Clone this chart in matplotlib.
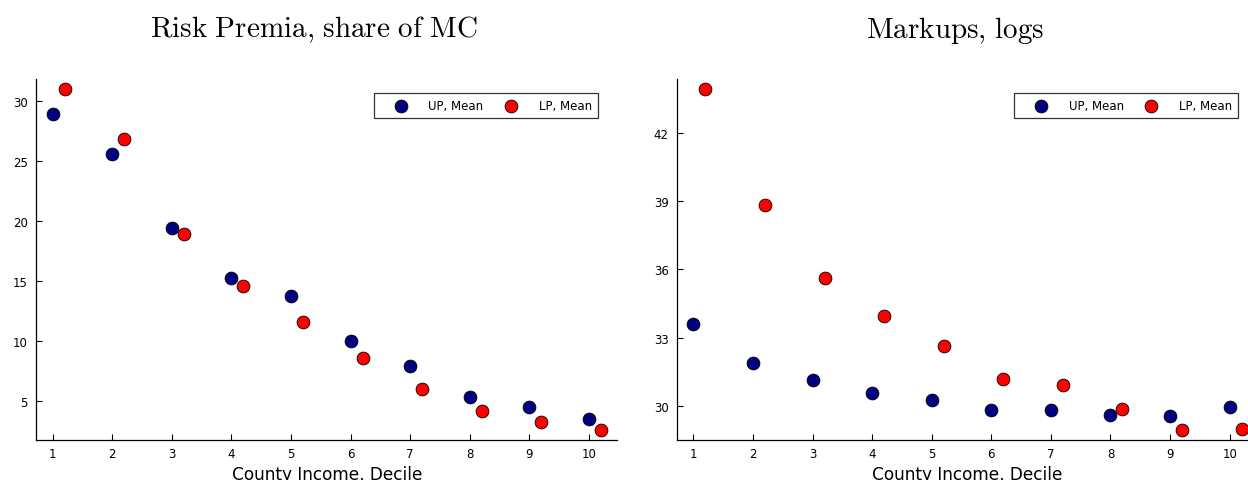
import numpy as np
import matplotlib
matplotlib.use('Agg')
import matplotlib.pyplot as plt

plt.rcParams['font.family'] = ['DejaVu Sans']
plt.rcParams['mathtext.fontset'] = 'cm'

# data
deciles = np.arange(1, 11)
shift = 0.2
risk_up = [28.95, 25.63, 19.42, 15.3, 13.8, 10.0, 7.97, 5.33, 4.5, 3.52]
risk_lp = [31.0, 26.83, 18.97, 14.6, 11.63, 8.63, 6.03, 4.17, 3.3, 2.63]
markup_up = [33.59, 31.88, 31.13, 30.56, 30.26, 29.81, 29.8, 29.62, 29.56, 29.97]
markup_lp = [43.92, 38.84, 35.6, 33.96, 32.65, 31.19, 30.94, 29.85, 28.95, 29.0]

titles = ['Risk Premia, share of MC', 'Markups, logs']
title_x = [314, 955]
yticks = [[5, 10, 15, 20, 25, 30], [30, 33, 36, 39, 42]]
series = [(risk_up, risk_lp), (markup_up, markup_lp)]

W, H = 1248, 481
fig = plt.figure(figsize=(W / 100, H / 100), dpi=100)

lefts = [36.3, 677]
for k in range(2):
    ax = fig.add_axes([lefts[k] / W, 1 - 441 / H, 581 / W, 361 / H])
    up, lp = series[k]
    ax.scatter(deciles, up, s=85, color='#000080', edgecolor='black',
               linewidth=0.6, label='UP, Mean', zorder=3)
    ax.scatter(deciles + shift, lp, s=85, color='#ff0000', edgecolor='black',
               linewidth=0.6, label='LP, Mean', zorder=3)

    allv = np.concatenate([up, lp])
    lo, hi = allv.min(), allv.max()
    pad = 0.03 * (hi - lo)
    ax.set_ylim(lo - pad, hi + pad)
    xlo, xhi = 1, 10 + shift
    xpad = 0.03 * (xhi - xlo)
    ax.set_xlim(xlo - xpad, xhi + xpad)

    ax.set_xticks(deciles)
    ax.set_yticks(yticks[k])
    ax.tick_params(direction='in', length=4, width=0.8, labelsize=8.5)
    ax.tick_params(axis='x', pad=5)
    ax.tick_params(axis='y', pad=6)
    for side in ['top', 'right']:
        ax.spines[side].set_visible(False)
    for side in ['left', 'bottom']:
        ax.spines[side].set_linewidth(0.9)

    ax.set_xlabel('County Income, Decile', fontsize=12.2, labelpad=4)

    leg = ax.legend(loc='upper right', ncol=2, fancybox=False, frameon=True,
                    edgecolor='black', fontsize=8.5, borderpad=0.5,
                    borderaxespad=0, handlelength=3.6, handletextpad=0.55,
                    columnspacing=0.5,
                    bbox_to_anchor=(0.966, 0.96))
    leg.get_frame().set_linewidth(0.9)

    fig.text(title_x[k] / W, 1 - 30 / H,
             r'$\mathrm{' + titles[k].replace(' ', r'\ ').replace(',', '{,}') + '}$',
             ha='center', va='center', fontsize=21)

fig.savefig('out.png', dpi=100)
